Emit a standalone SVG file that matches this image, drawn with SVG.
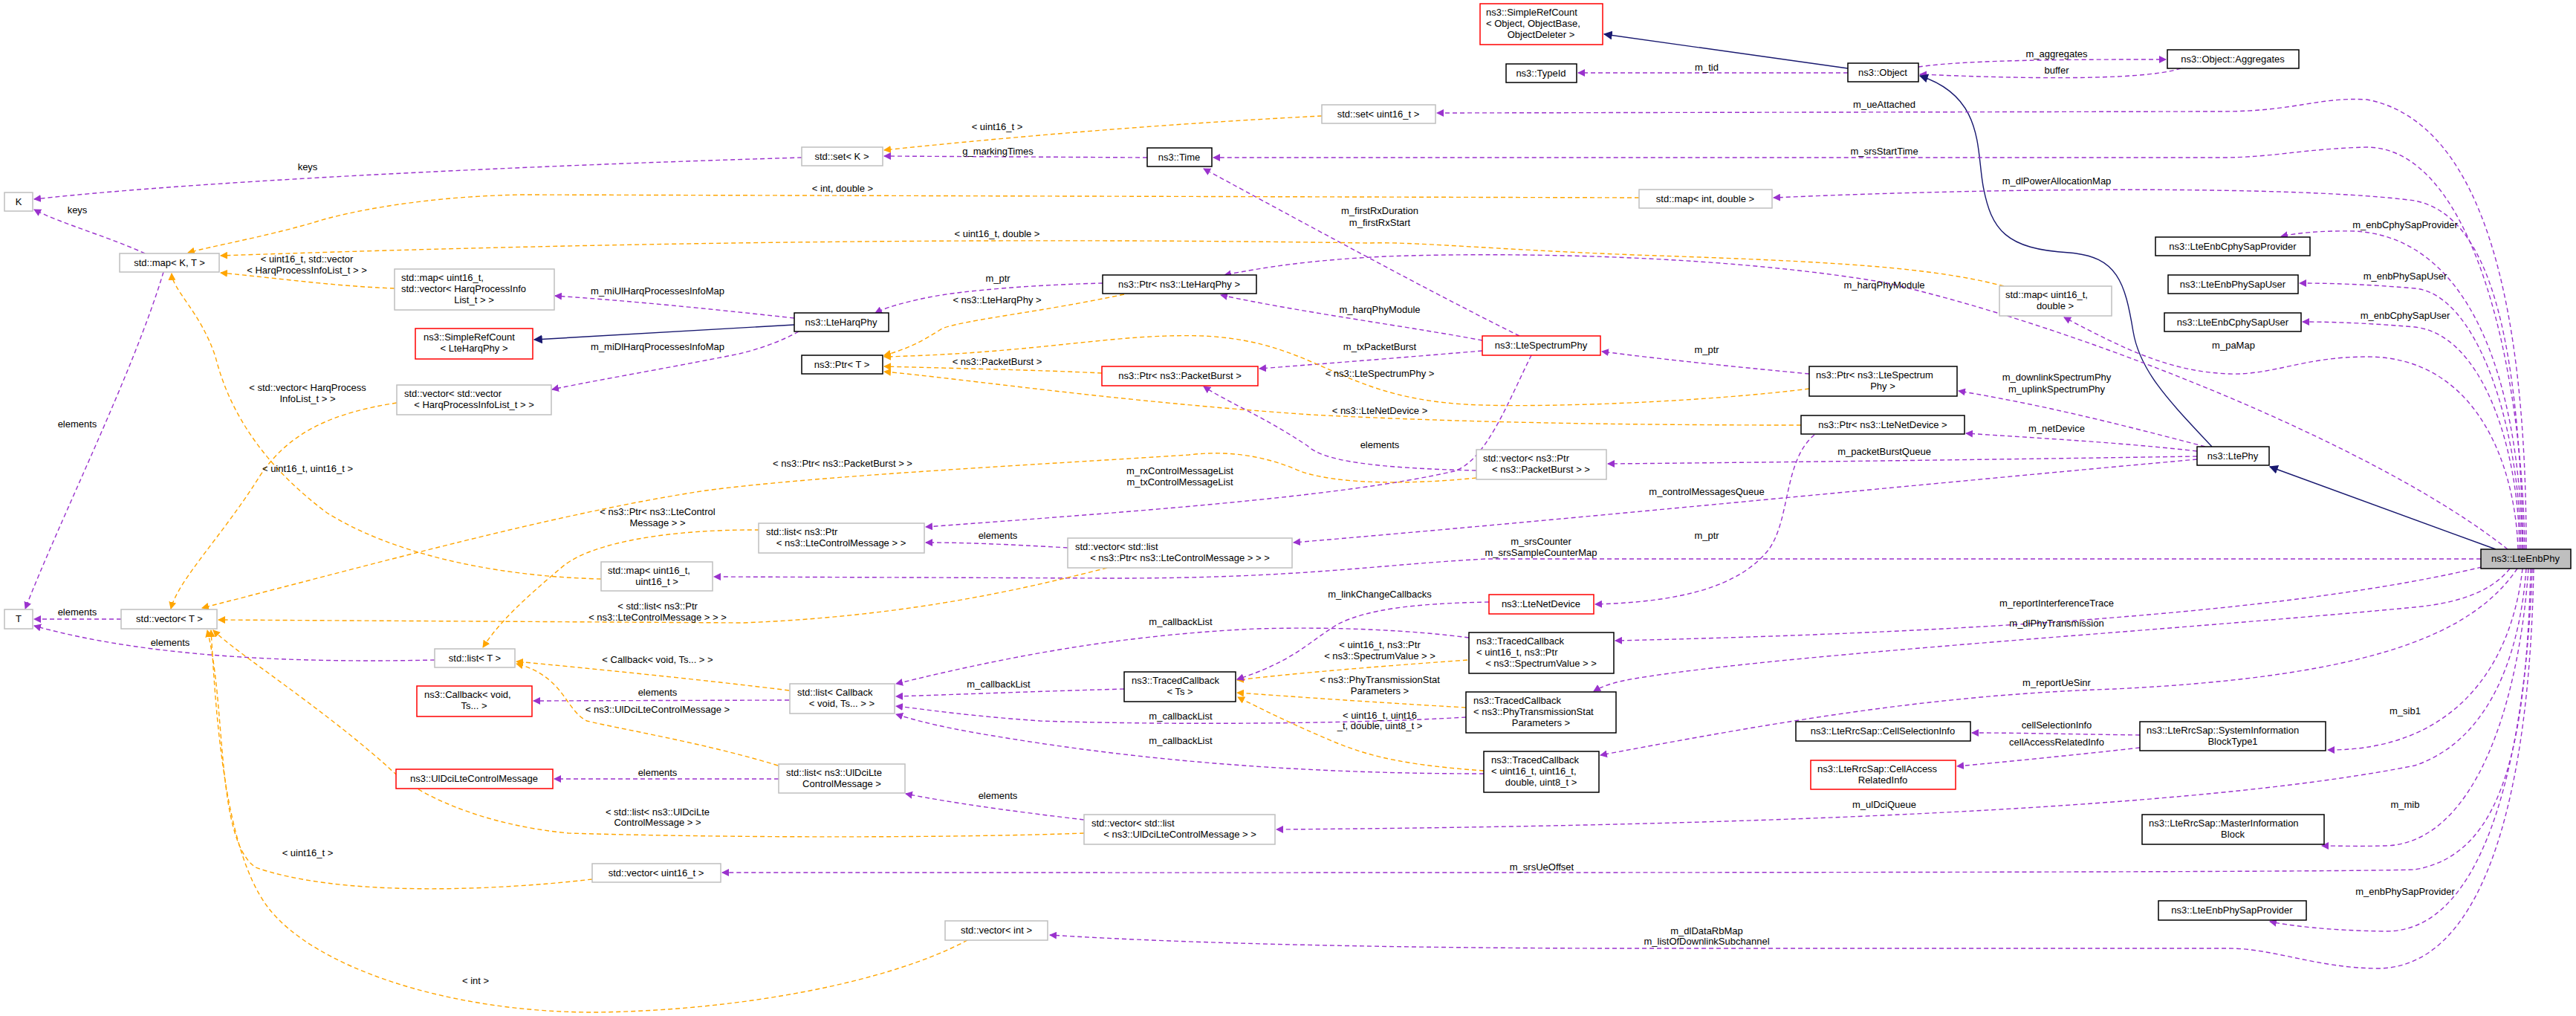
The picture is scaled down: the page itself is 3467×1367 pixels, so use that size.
<svg xmlns="http://www.w3.org/2000/svg" width="3467" height="1367" viewBox="0 0 3467 1367">
<style>
text{font-family:"Liberation Sans",Arial,sans-serif;font-size:13px;fill:#000}
.n rect{fill:#fff;stroke-width:1.5}
.b rect{stroke:#000}
.g rect{stroke:#bfbfbf}
.r rect{stroke:#ff0000}
.c{text-anchor:middle}
.e path{fill:none;stroke-width:1.4}
.p{stroke:#9a32cd;stroke-dasharray:6,4}
.o{stroke:#ffa500;stroke-dasharray:6,4}
.i{stroke:#191970}
.lb text{text-anchor:middle}
</style>
<defs>
<marker id="ap" viewBox="0 0 10 10" refX="9" refY="5" markerWidth="10" markerHeight="10" markerUnits="userSpaceOnUse" orient="auto"><path d="M0,0 L10,5 L0,10 z" fill="#9a32cd"/></marker>
<marker id="ao" viewBox="0 0 10 10" refX="9" refY="5" markerWidth="10" markerHeight="10" markerUnits="userSpaceOnUse" orient="auto"><path d="M0,0 L10,5 L0,10 z" fill="#ffa500"/></marker>
<marker id="ai" viewBox="0 0 10 10" refX="9" refY="5" markerWidth="12" markerHeight="12" markerUnits="userSpaceOnUse" orient="auto"><path d="M0,0 L10,5 L0,10 z" fill="#191970"/></marker>
</defs>
<rect width="3467" height="1367" fill="#fff"/>
<g id="edges" class="e">
<path class="i" marker-end="url(#ai)" d="M2487,92 L2159,46"/>
<path class="p" marker-end="url(#ap)" d="M2487,98 L2124,98"/>
<path class="p" marker-end="url(#ap)" d="M2582,90 C2650,80 2800,80 2915,80"/>
<path class="p" marker-end="url(#ap)" d="M2935,92 C2880,110 2700,105 2584,100"/>
<path class="i" marker-end="url(#ai)" d="M2977,601 C2920,540 2880,500 2871,446 C2860,380 2850,345 2785,340 C2700,335 2680,310 2669,250 C2660,200 2670,130 2584,102"/>
<path class="i" marker-end="url(#ai)" d="M3359,739 L3055,628"/>
<path class="p" marker-end="url(#ap)" d="M3400,739 C3400,500 3370,170 3186,134 C3120,130 3090,150 2990,150 L1934,152"/>
<path class="p" marker-end="url(#ap)" d="M3398,739 C3395,500 3330,200 3186,198 C3100,200 3060,212 2990,212 L1633,212"/>
<path class="p" marker-end="url(#ap)" d="M3396,739 C3390,450 3350,290 3250,270 C3100,250 2700,252 2387,266"/>
<path class="p" marker-end="url(#ap)" d="M3395,739 C3390,500 3320,320 3170,311 C3120,310 3090,314 3070,318"/>
<path class="p" marker-end="url(#ap)" d="M3393,739 C3390,560 3330,395 3250,388 C3180,382 3130,381 3095,381"/>
<path class="p" marker-end="url(#ap)" d="M3391,739 C3390,600 3340,450 3250,440 C3180,434 3130,433 3099,433"/>
<path class="p" marker-end="url(#ap)" d="M3389,739 C3385,620 3330,480 3186,480 C3100,480 3060,505 3000,503 C2920,500 2860,470 2778,427"/>
<path class="p" marker-end="url(#ap)" d="M3375,739 C3200,600 2800,440 2536,380 C2300,340 2000,340 1865,345 C1760,350 1700,360 1648,370"/>
<path class="p" marker-end="url(#ap)" d="M3339,752 L2000,752 C1850,760 1750,778 1500,778 L961,776"/>
<path class="p" marker-end="url(#ap)" d="M3340,763 C3100,820 2700,850 2174,862"/>
<path class="p" marker-end="url(#ap)" d="M3378,765 C3350,800 3300,812 3250,817 C2900,850 2400,880 2200,913 C2170,918 2155,924 2145,930"/>
<path class="p" marker-end="url(#ap)" d="M3388,765 C3330,850 3200,910 2846,927 C2600,935 2400,970 2154,1016"/>
<path class="p" marker-end="url(#ap)" d="M3395,765 C3380,900 3300,1010 3133,1009"/>
<path class="p" marker-end="url(#ap)" d="M2880,989 C2800,988 2720,986 2654,986"/>
<path class="p" marker-end="url(#ap)" d="M2880,1006 C2800,1015 2700,1025 2634,1031"/>
<path class="p" marker-end="url(#ap)" d="M3400,765 C3390,900 3340,1000 3250,1030 C3000,1080 2500,1110 1718,1116"/>
<path class="p" marker-end="url(#ap)" d="M3403,765 C3390,950 3330,1135 3210,1138 C3170,1139 3145,1138 3125,1138"/>
<path class="p" marker-end="url(#ap)" d="M3406,765 C3400,1000 3370,1150 3250,1170 C3100,1175 1500,1174 972,1174"/>
<path class="p" marker-end="url(#ap)" d="M3408,765 C3400,1000 3350,1255 3210,1253 C3130,1252 3080,1245 3055,1240"/>
<path class="p" marker-end="url(#ap)" d="M3410,765 C3405,1050 3350,1300 3202,1303 C3120,1303 3060,1276 3000,1276 L2200,1276 C1900,1276 1600,1270 1413,1258"/>
<path class="p" marker-end="url(#ap)" d="M2968,601 C2850,570 2750,545 2636,526"/>
<path class="p" marker-end="url(#ap)" d="M2957,607 C2850,595 2750,590 2646,583"/>
<path class="p" marker-end="url(#ap)" d="M2957,614 C2700,618 2400,622 2164,624"/>
<path class="p" marker-end="url(#ap)" d="M2957,618 C2600,650 2100,700 1741,730"/>
<path class="p" marker-end="url(#ap)" d="M2045,452 C1900,380 1700,270 1620,227"/>
<path class="p" marker-end="url(#ap)" d="M1995,458 C1900,440 1750,420 1643,397"/>
<path class="p" marker-end="url(#ap)" d="M1995,472 C1900,480 1800,488 1695,496"/>
<path class="p" marker-end="url(#ap)" d="M2061,478 C2030,540 2000,620 1957,634 C1800,670 1500,690 1246,709"/>
<path class="p" marker-end="url(#ap)" d="M2435,503 C2350,495 2250,485 2156,473"/>
<path class="p" marker-end="url(#ap)" d="M2442,585 C2400,620 2410,700 2380,740 C2340,790 2260,810 2147,813"/>
<path class="o" marker-end="url(#ao)" d="M2435,523 C2300,540 2100,548 1995,545 C1800,540 1780,460 1620,452 C1500,448 1400,475 1190,480"/>
<path class="o" marker-end="url(#ao)" d="M2424,572 C2100,572 1900,565 1765,558 C1500,540 1300,510 1190,500"/>
<path class="o" marker-end="url(#ao)" d="M1483,502 C1400,498 1300,496 1190,493"/>
<path class="o" marker-end="url(#ao)" d="M1513,396 C1400,420 1300,430 1268,442 C1240,460 1220,470 1190,478"/>
<path class="p" marker-end="url(#ap)" d="M1484,381 C1400,383 1300,390 1250,400 C1210,408 1190,415 1178,421"/>
<path class="i" marker-end="url(#ai)" d="M1069,437 L719,457"/>
<path class="p" marker-end="url(#ap)" d="M1069,428 C950,415 850,405 747,398"/>
<path class="p" marker-end="url(#ap)" d="M1075,446 C1050,460 1020,470 995,476 C900,495 800,512 743,524"/>
<path class="o" marker-end="url(#ao)" d="M531,388 C450,385 380,375 297,367"/>
<path class="o" marker-end="url(#ao)" d="M534,542 C450,555 390,580 350,640 C300,720 240,780 230,819"/>
<path class="p" marker-end="url(#ap)" d="M195,341 C150,320 80,300 46,282"/>
<path class="p" marker-end="url(#ap)" d="M1079,212 C800,220 300,240 46,268"/>
<path class="p" marker-end="url(#ap)" d="M220,366 C180,500 80,700 34,819"/>
<path class="p" marker-end="url(#ap)" d="M163,833 L46,833"/>
<path class="p" marker-end="url(#ap)" d="M585,888 C400,892 200,885 46,842"/>
<path class="o" marker-end="url(#ao)" d="M1779,156 C1600,165 1400,180 1190,202"/>
<path class="p" marker-end="url(#ap)" d="M1544,212 L1190,210"/>
<path class="o" marker-end="url(#ao)" d="M2206,266 L700,262 C550,265 450,290 420,300 C350,320 290,330 253,340"/>
<path class="o" marker-end="url(#ao)" d="M2697,385 C2600,360 2480,352 2200,343 C2000,335 1900,325 1842,327 C1500,322 1000,320 297,344"/>
<path class="o" marker-end="url(#ao)" d="M809,779 C650,775 520,740 440,690 C360,630 310,560 290,480 C270,420 232,390 231,368"/>
<path class="o" marker-end="url(#ao)" d="M1490,764 C1350,800 1200,830 1000,838 L294,834"/>
<path class="p" marker-end="url(#ap)" d="M1437,737 C1350,732 1300,730 1246,730"/>
<path class="o" marker-end="url(#ao)" d="M1022,713 C900,712 800,730 760,760 C700,810 670,840 650,871"/>
<path class="o" marker-end="url(#ao)" d="M1987,643 C1900,652 1800,652 1750,634 C1700,612 1650,606 1600,612 C1400,625 1100,640 950,660 C750,690 500,760 272,818"/>
<path class="p" marker-end="url(#ap)" d="M1987,633 C1850,630 1780,620 1760,600 C1700,560 1650,540 1620,520"/>
<path class="o" marker-end="url(#ao)" d="M1062,929 C950,915 800,900 695,890"/>
<path class="p" marker-end="url(#ap)" d="M1062,942 L718,943"/>
<path class="o" marker-end="url(#ao)" d="M1047,1030 C950,1000 830,980 790,970 C760,955 760,910 695,893"/>
<path class="p" marker-end="url(#ap)" d="M1048,1048 L746,1048"/>
<path class="p" marker-end="url(#ap)" d="M1459,1103 C1350,1090 1280,1080 1219,1068"/>
<path class="o" marker-end="url(#ao)" d="M1459,1121 C1300,1127 1000,1128 765,1121 C650,1110 560,1070 520,1030 C430,950 320,880 287,848"/>
<path class="o" marker-end="url(#ao)" d="M797,1183 C650,1200 450,1205 344,1167 C290,1130 305,950 279,848"/>
<path class="o" marker-end="url(#ao)" d="M1302,1265 C1200,1320 1000,1360 800,1362 C600,1362 420,1300 360,1220 C300,1140 290,950 284,848"/>
<path class="p" marker-end="url(#ap)" d="M1513,927 C1400,930 1300,934 1206,937"/>
<path class="p" marker-end="url(#ap)" d="M1977,858 C1900,848 1800,843 1690,846 C1500,855 1350,885 1206,920"/>
<path class="p" marker-end="url(#ap)" d="M1973,965 C1800,975 1550,975 1400,970 C1300,963 1250,955 1206,950"/>
<path class="p" marker-end="url(#ap)" d="M1997,1041 C1800,1041 1600,1030 1400,1000 C1300,985 1250,975 1206,961"/>
<path class="o" marker-end="url(#ao)" d="M1975,888 C1850,897 1750,905 1665,915"/>
<path class="o" marker-end="url(#ao)" d="M1973,952 C1850,945 1750,938 1665,932"/>
<path class="o" marker-end="url(#ao)" d="M1997,1037 C1900,1030 1850,1020 1800,1000 C1740,975 1700,955 1666,938"/>
<path class="p" marker-end="url(#ap)" d="M2004,810 C1900,812 1840,820 1800,840 C1760,865 1740,890 1665,914"/>
</g>
<g class="lb">
<text x="2768" y="77">m_aggregates</text>
<text x="2768" y="99">buffer</text>
<text x="2297" y="95">m_tid</text>
<text x="2536" y="145">m_ueAttached</text>
<text x="2536" y="208">m_srsStartTime</text>
<text x="2768" y="248">m_dlPowerAllocationMap</text>
<text x="3237" y="307">m_enbCphySapProvider</text>
<text x="3237" y="376">m_enbPhySapUser</text>
<text x="2536" y="388">m_harqPhyModule</text>
<text x="3237" y="429">m_enbCphySapUser</text>
<text x="3006" y="469">m_paMap</text>
<text x="2297" y="475">m_ptr</text>
<text x="2768" y="512">m_downlinkSpectrumPhy</text>
<text x="2768" y="528">m_uplinkSpectrumPhy</text>
<text x="2768" y="581">m_netDevice</text>
<text x="2536" y="612">m_packetBurstQueue</text>
<text x="2297" y="666">m_controlMessagesQueue</text>
<text x="2297" y="725">m_ptr</text>
<text x="2768" y="816">m_reportInterferenceTrace</text>
<text x="2768" y="843">m_dlPhyTransmission</text>
<text x="2768" y="923">m_reportUeSinr</text>
<text x="3237" y="961">m_sib1</text>
<text x="2768" y="980">cellSelectionInfo</text>
<text x="2768" y="1003">cellAccessRelatedInfo</text>
<text x="2536" y="1087">m_ulDciQueue</text>
<text x="3237" y="1087">m_mib</text>
<text x="3237" y="1204">m_enbPhySapProvider</text>
<text x="2297" y="1257">m_dlDataRbMap</text>
<text x="2297" y="1271">m_listOfDownlinkSubchannel</text>
<text x="1342" y="175">&lt; uint16_t &gt;</text>
<text x="1343" y="208">g_markingTimes</text>
<text x="1134" y="258">&lt; int, double &gt;</text>
<text x="1342" y="319">&lt; uint16_t, double &gt;</text>
<text x="1857" y="288">m_firstRxDuration</text>
<text x="1857" y="304">m_firstRxStart</text>
<text x="1343" y="379">m_ptr</text>
<text x="1342" y="408">&lt; ns3::LteHarqPhy &gt;</text>
<text x="1857" y="421">m_harqPhyModule</text>
<text x="1342" y="491">&lt; ns3::PacketBurst &gt;</text>
<text x="1857" y="471">m_txPacketBurst</text>
<text x="1857" y="507">&lt; ns3::LteSpectrumPhy &gt;</text>
<text x="1857" y="557">&lt; ns3::LteNetDevice &gt;</text>
<text x="1857" y="603">elements</text>
<text x="1588" y="638">m_rxControlMessageList</text>
<text x="1588" y="653">m_txControlMessageList</text>
<text x="1134" y="628">&lt; ns3::Ptr&lt; ns3::PacketBurst &gt; &gt;</text>
<text x="1343" y="725">elements</text>
<text x="2074" y="733">m_srsCounter</text>
<text x="2074" y="748">m_srsSampleCounterMap</text>
<text x="1857" y="804">m_linkChangeCallbacks</text>
<text x="1589" y="841">m_callbackList</text>
<text x="1857" y="872">&lt; uint16_t, ns3::Ptr</text>
<text x="1857" y="887">&lt; ns3::SpectrumValue &gt; &gt;</text>
<text x="1344" y="925">m_callbackList</text>
<text x="1857" y="919">&lt; ns3::PhyTransmissionStat</text>
<text x="1857" y="934">Parameters &gt;</text>
<text x="1589" y="968">m_callbackList</text>
<text x="1857" y="967">&lt; uint16_t, uint16</text>
<text x="1857" y="981">_t, double, uint8_t &gt;</text>
<text x="1589" y="1001">m_callbackList</text>
<text x="1343" y="1075">elements</text>
<text x="2075" y="1171">m_srsUeOffset</text>
<text x="414" y="229">keys</text>
<text x="104" y="287">keys</text>
<text x="413" y="353">&lt; uint16_t, std::vector</text>
<text x="413" y="368">&lt; HarqProcessInfoList_t &gt; &gt;</text>
<text x="885" y="396">m_miUlHarqProcessesInfoMap</text>
<text x="885" y="471">m_miDlHarqProcessesInfoMap</text>
<text x="414" y="526">&lt; std::vector&lt; HarqProcess</text>
<text x="414" y="541">InfoList_t &gt; &gt;</text>
<text x="104" y="575">elements</text>
<text x="414" y="635">&lt; uint16_t, uint16_t &gt;</text>
<text x="885" y="693">&lt; ns3::Ptr&lt; ns3::LteControl</text>
<text x="885" y="708">Message &gt; &gt;</text>
<text x="885" y="820">&lt; std::list&lt; ns3::Ptr</text>
<text x="885" y="835">&lt; ns3::LteControlMessage &gt; &gt; &gt;</text>
<text x="104" y="828">elements</text>
<text x="229" y="869">elements</text>
<text x="885" y="892">&lt; Callback&lt; void, Ts... &gt; &gt;</text>
<text x="885" y="936">elements</text>
<text x="885" y="959">&lt; ns3::UlDciLteControlMessage &gt;</text>
<text x="885" y="1044">elements</text>
<text x="885" y="1097">&lt; std::list&lt; ns3::UlDciLte</text>
<text x="885" y="1111">ControlMessage &gt; &gt;</text>
<text x="414" y="1152">&lt; uint16_t &gt;</text>
<text x="640" y="1324">&lt; int &gt;</text>
</g>
<g id="SimpleRefCountObject" class="n r"><rect x="1992" y="5" width="165" height="55"/><text x="2000" y="21">ns3::SimpleRefCount</text><text x="2000" y="36">&lt; Object, ObjectBase,</text><text class="c" x="2074" y="51">ObjectDeleter &gt;</text></g>
<g id="TypeId" class="n b"><rect x="2027" y="86" width="95" height="25"/><text class="c" x="2074" y="103">ns3::TypeId</text></g>
<g id="Object" class="n b"><rect x="2487" y="85" width="95" height="25"/><text class="c" x="2534" y="102">ns3::Object</text></g>
<g id="Aggregates" class="n b"><rect x="2917" y="67" width="177" height="25"/><text class="c" x="3005" y="84">ns3::Object::Aggregates</text></g>
<g id="setU16" class="n g"><rect x="1779" y="141" width="153" height="25"/><text class="c" x="1855" y="158">std::set&lt; uint16_t &gt;</text></g>
<g id="setK" class="n g"><rect x="1079" y="198" width="109" height="25"/><text class="c" x="1133" y="215">std::set&lt; K &gt;</text></g>
<g id="Time" class="n b"><rect x="1544" y="199" width="87" height="25"/><text class="c" x="1587" y="216">ns3::Time</text></g>
<g id="K" class="n g"><rect x="6" y="259" width="38" height="25"/><text class="c" x="25" y="276">K</text></g>
<g id="mapIntDouble" class="n g"><rect x="2206" y="255" width="179" height="25"/><text class="c" x="2295" y="272">std::map&lt; int, double &gt;</text></g>
<g id="LteEnbCphySapProvider" class="n b"><rect x="2901" y="319" width="208" height="25"/><text class="c" x="3005" y="336">ns3::LteEnbCphySapProvider</text></g>
<g id="mapKT" class="n g"><rect x="161" y="341" width="134" height="25"/><text class="c" x="228" y="358">std::map&lt; K, T &gt;</text></g>
<g id="mapU16Vec" class="n g"><rect x="531" y="362" width="215" height="55"/><text x="540" y="378">std::map&lt; uint16_t,</text><text x="540" y="393"> std::vector&lt; HarqProcessInfo</text><text class="c" x="638" y="408">List_t &gt; &gt;</text></g>
<g id="PtrLteHarqPhy" class="n b"><rect x="1484" y="370" width="207" height="25"/><text class="c" x="1587" y="387">ns3::Ptr&lt; ns3::LteHarqPhy &gt;</text></g>
<g id="LteEnbPhySapUser" class="n b"><rect x="2918" y="370" width="175" height="25"/><text class="c" x="3005" y="387">ns3::LteEnbPhySapUser</text></g>
<g id="mapU16Double" class="n g"><rect x="2691" y="385" width="151" height="40"/><text x="2699" y="401">std::map&lt; uint16_t,</text><text class="c" x="2766" y="416">double &gt;</text></g>
<g id="LteHarqPhy" class="n b"><rect x="1069" y="421" width="127" height="25"/><text class="c" x="1132" y="438">ns3::LteHarqPhy</text></g>
<g id="LteEnbCphySapUser" class="n b"><rect x="2913" y="421" width="184" height="25"/><text class="c" x="3005" y="438">ns3::LteEnbCphySapUser</text></g>
<g id="SimpleRefCountHarq" class="n r"><rect x="559" y="442" width="158" height="41"/><text x="570" y="458">ns3::SimpleRefCount</text><text class="c" x="638" y="473">&lt; LteHarqPhy &gt;</text></g>
<g id="LteSpectrumPhy" class="n r"><rect x="1995" y="452" width="159" height="26"/><text class="c" x="2074" y="469">ns3::LteSpectrumPhy</text></g>
<g id="PtrT" class="n b"><rect x="1079" y="478" width="109" height="25"/><text class="c" x="1133" y="495">ns3::Ptr&lt; T &gt;</text></g>
<g id="PtrPacketBurst" class="n r"><rect x="1483" y="493" width="210" height="26"/><text class="c" x="1588" y="510">ns3::Ptr&lt; ns3::PacketBurst &gt;</text></g>
<g id="PtrLteSpectrumPhy" class="n b"><rect x="2435" y="493" width="199" height="40"/><text x="2444" y="509">ns3::Ptr&lt; ns3::LteSpectrum</text><text class="c" x="2534" y="524">Phy &gt;</text></g>
<g id="vecVec" class="n g"><rect x="534" y="518" width="208" height="40"/><text x="544" y="534">std::vector&lt; std::vector</text><text class="c" x="638" y="549">&lt; HarqProcessInfoList_t &gt; &gt;</text></g>
<g id="PtrLteNetDevice" class="n b"><rect x="2424" y="559" width="220" height="25"/><text class="c" x="2534" y="576">ns3::Ptr&lt; ns3::LteNetDevice &gt;</text></g>
<g id="LtePhy" class="n b"><rect x="2957" y="601" width="97" height="25"/><text class="c" x="3005" y="618">ns3::LtePhy</text></g>
<g id="vecPtrPB" class="n g"><rect x="1987" y="605" width="175" height="40"/><text x="1996" y="621">std::vector&lt; ns3::Ptr</text><text class="c" x="2074" y="636">&lt; ns3::PacketBurst &gt; &gt;</text></g>
<g id="listPtrLCM" class="n g"><rect x="1021" y="704" width="223" height="40"/><text x="1031" y="720">std::list&lt; ns3::Ptr</text><text class="c" x="1132" y="735">&lt; ns3::LteControlMessage &gt; &gt;</text></g>
<g id="vecListLCM" class="n g"><rect x="1437" y="724" width="302" height="40"/><text x="1447" y="740">std::vector&lt; std::list</text><text class="c" x="1588" y="755">&lt; ns3::Ptr&lt; ns3::LteControlMessage &gt; &gt; &gt;</text></g>
<g id="LteEnbPhy" class="n b"><rect x="3339" y="739" width="121" height="26" style="fill:#bfbfbf"/><text class="c" x="3399" y="756">ns3::LteEnbPhy</text></g>
<g id="mapU16U16" class="n g"><rect x="809" y="756" width="150" height="39"/><text x="818" y="772">std::map&lt; uint16_t,</text><text class="c" x="884" y="787">uint16_t &gt;</text></g>
<g id="LteNetDevice" class="n r"><rect x="2004" y="800" width="141" height="26"/><text class="c" x="2074" y="817">ns3::LteNetDevice</text></g>
<g id="T" class="n g"><rect x="6" y="820" width="38" height="26"/><text class="c" x="25" y="837">T</text></g>
<g id="vecT" class="n g"><rect x="163" y="820" width="129" height="26"/><text class="c" x="228" y="837">std::vector&lt; T &gt;</text></g>
<g id="TCSpectrum" class="n b"><rect x="1977" y="851" width="195" height="55"/><text x="1987" y="867">ns3::TracedCallback</text><text x="1987" y="882">&lt; uint16_t, ns3::Ptr</text><text class="c" x="2074" y="897">&lt; ns3::SpectrumValue &gt; &gt;</text></g>
<g id="listT" class="n g"><rect x="585" y="873" width="108" height="25"/><text class="c" x="639" y="890">std::list&lt; T &gt;</text></g>
<g id="TCTs" class="n b"><rect x="1513" y="904" width="150" height="40"/><text x="1523" y="920">ns3::TracedCallback</text><text class="c" x="1588" y="935">&lt; Ts &gt;</text></g>
<g id="listCallback" class="n g"><rect x="1063" y="920" width="141" height="40"/><text x="1073" y="936">std::list&lt; Callback</text><text class="c" x="1133" y="951">&lt; void, Ts... &gt; &gt;</text></g>
<g id="Callback" class="n r"><rect x="561" y="923" width="155" height="41"/><text x="571" y="939">ns3::Callback&lt; void,</text><text class="c" x="638" y="954">Ts... &gt;</text></g>
<g id="TCPhyTrans" class="n b"><rect x="1973" y="931" width="202" height="55"/><text x="1983" y="947">ns3::TracedCallback</text><text x="1983" y="962">&lt; ns3::PhyTransmissionStat</text><text class="c" x="2074" y="977">Parameters &gt;</text></g>
<g id="CellSelectionInfo" class="n b"><rect x="2417" y="971" width="235" height="26"/><text class="c" x="2534" y="988">ns3::LteRrcSap::CellSelectionInfo</text></g>
<g id="SIB1" class="n b"><rect x="2880" y="971" width="250" height="39"/><text x="2889" y="987">ns3::LteRrcSap::SystemInformation</text><text class="c" x="3005" y="1002">BlockType1</text></g>
<g id="TCUeSinr" class="n b"><rect x="1997" y="1011" width="155" height="55"/><text x="2007" y="1027">ns3::TracedCallback</text><text x="2007" y="1042">&lt; uint16_t, uint16_t,</text><text class="c" x="2074" y="1057">double, uint8_t &gt;</text></g>
<g id="CellAccess" class="n r"><rect x="2437" y="1023" width="195" height="39"/><text x="2446" y="1039">ns3::LteRrcSap::CellAccess</text><text class="c" x="2534" y="1054">RelatedInfo</text></g>
<g id="listUlDci" class="n g"><rect x="1048" y="1028" width="170" height="39"/><text x="1058" y="1044">std::list&lt; ns3::UlDciLte</text><text class="c" x="1133" y="1059">ControlMessage &gt;</text></g>
<g id="UlDci" class="n r"><rect x="533" y="1035" width="211" height="26"/><text class="c" x="638" y="1052">ns3::UlDciLteControlMessage</text></g>
<g id="vecListUlDci" class="n g"><rect x="1459" y="1096" width="257" height="40"/><text x="1469" y="1112">std::vector&lt; std::list</text><text class="c" x="1588" y="1127">&lt; ns3::UlDciLteControlMessage &gt; &gt;</text></g>
<g id="MIB" class="n b"><rect x="2883" y="1096" width="245" height="40"/><text x="2892" y="1112">ns3::LteRrcSap::MasterInformation</text><text class="c" x="3005" y="1127">Block</text></g>
<g id="vecU16" class="n g"><rect x="797" y="1162" width="173" height="25"/><text class="c" x="883" y="1179">std::vector&lt; uint16_t &gt;</text></g>
<g id="LteEnbPhySapProvider" class="n b"><rect x="2905" y="1212" width="199" height="26"/><text class="c" x="3004" y="1229">ns3::LteEnbPhySapProvider</text></g>
<g id="vecInt" class="n g"><rect x="1272" y="1239" width="138" height="26"/><text class="c" x="1341" y="1256">std::vector&lt; int &gt;</text></g>
</svg>
